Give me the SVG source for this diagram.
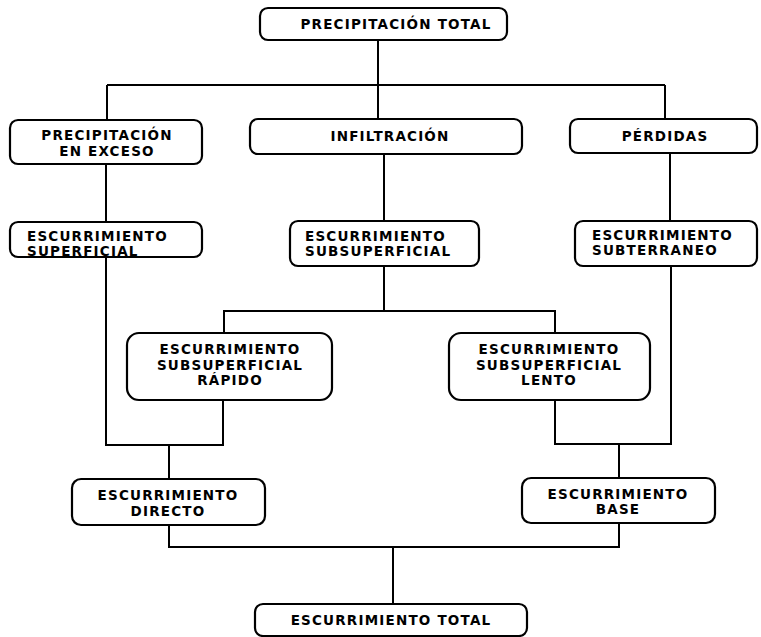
<svg xmlns="http://www.w3.org/2000/svg" width="761" height="637" viewBox="0 0 761 637">
<style>
.box{fill:#fff;stroke:#000;stroke-width:2.2}
.ln{fill:none;stroke:#000;stroke-width:2}
text{font-family:"DejaVu Sans","Liberation Sans",sans-serif;font-weight:bold;font-size:13.5px;letter-spacing:1.2px;fill:#000}
.c{text-anchor:middle}
</style>
<rect width="761" height="637" fill="#fff"/>
<g id="connectors">
<path class="ln" d="M378,40 V119"/>
<path class="ln" d="M107,85 H665"/>
<path class="ln" d="M107,85 V120"/>
<path class="ln" d="M665,85 V119"/>
<path class="ln" d="M106,164 V222"/>
<path class="ln" d="M106,257 V445 H223 V400"/>
<path class="ln" d="M384,154 V221"/>
<path class="ln" d="M384,266 V311"/>
<path class="ln" d="M224,333 V311 H555 V333"/>
<path class="ln" d="M670,153 V221"/>
<path class="ln" d="M671,266 V444 H555 V400"/>
<path class="ln" d="M619,444 V478"/>
<path class="ln" d="M169,445 V479"/>
<path class="ln" d="M169,525 V547 H619 V523"/>
<path class="ln" d="M393,547 V604"/>
</g>
<g id="n-precip-total">
<rect class="box" x="260" y="8" width="247" height="32" rx="8"/>
<text class="c" x="396" y="29">PRECIPITACIÓN TOTAL</text>
</g>
<g id="n-precip-exceso">
<rect class="box" x="10" y="120" width="192" height="44" rx="8"/>
<text class="c" x="107" y="140">PRECIPITACIÓN</text>
<text class="c" x="107" y="156">EN EXCESO</text>
</g>
<g id="n-infiltracion">
<rect class="box" x="250" y="119" width="272" height="35" rx="8"/>
<text class="c" x="390" y="141">INFILTRACIÓN</text>
</g>
<g id="n-perdidas">
<rect class="box" x="570" y="119" width="187" height="34" rx="8"/>
<text class="c" x="665" y="141">PÉRDIDAS</text>
</g>
<g id="n-esc-superficial">
<rect class="box" x="10" y="222" width="192" height="35" rx="8"/>
<text x="27" y="241">ESCURRIMIENTO</text>
<text x="27" y="256">SUPERFICIAL</text>
</g>
<g id="n-esc-subsuperficial">
<rect class="box" x="290" y="221" width="189" height="45" rx="8"/>
<text x="305" y="241">ESCURRIMIENTO</text>
<text x="305" y="256">SUBSUPERFICIAL</text>
</g>
<g id="n-esc-subterraneo">
<rect class="box" x="575" y="221" width="182" height="45" rx="8"/>
<text x="592" y="240">ESCURRIMIENTO</text>
<text x="592" y="255">SUBTERRANEO</text>
</g>
<g id="n-rapido">
<rect class="box" x="127" y="333" width="205" height="67" rx="12"/>
<text class="c" x="230" y="354">ESCURRIMIENTO</text>
<text class="c" x="230" y="370">SUBSUPERFICIAL</text>
<text class="c" x="230" y="385">RÁPIDO</text>
</g>
<g id="n-lento">
<rect class="box" x="449" y="333" width="201" height="67" rx="12"/>
<text class="c" x="549" y="354">ESCURRIMIENTO</text>
<text class="c" x="549" y="370">SUBSUPERFICIAL</text>
<text class="c" x="549" y="385">LENTO</text>
</g>
<g id="n-directo">
<rect class="box" x="72" y="479" width="193" height="46" rx="9"/>
<text class="c" x="168" y="500">ESCURRIMIENTO</text>
<text class="c" x="168" y="516">DIRECTO</text>
</g>
<g id="n-base">
<rect class="box" x="522" y="478" width="193" height="45" rx="9"/>
<text class="c" x="618" y="499">ESCURRIMIENTO</text>
<text class="c" x="618" y="514">BASE</text>
</g>
<g id="n-esc-total">
<rect class="box" x="255" y="604" width="272" height="32" rx="8"/>
<text class="c" x="391" y="625">ESCURRIMIENTO TOTAL</text>
</g>
</svg>
